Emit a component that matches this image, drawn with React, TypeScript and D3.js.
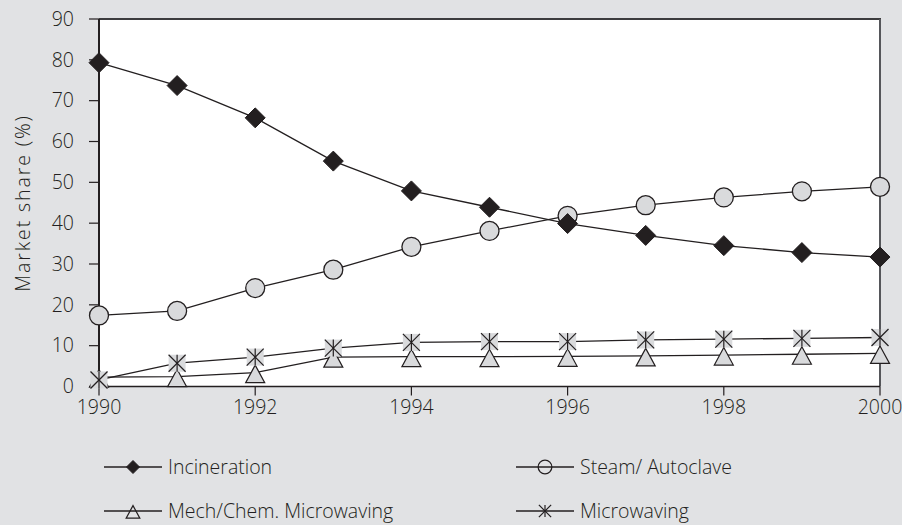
import React from "react";
import * as d3 from "d3";

const years = [1990, 1991, 1992, 1993, 1994, 1995, 1996, 1997, 1998, 1999, 2000];
const incineration = [79.3, 73.7, 65.8, 55.2, 47.9, 43.9, 39.9, 37.0, 34.5, 32.8, 31.7];
const steamAutoclave = [17.4, 18.5, 24.1, 28.6, 34.2, 38.1, 41.8, 44.4, 46.3, 47.8, 48.9];
const mechChemMicrowaving = [2.3, 2.4, 3.4, 7.2, 7.3, 7.3, 7.4, 7.5, 7.7, 7.9, 8.1];
const microwaving = [1.6, 5.7, 7.2, 9.4, 10.8, 11.0, 11.0, 11.4, 11.6, 11.8, 12.0];
const xTicks = [1990, 1992, 1994, 1996, 1998, 2000];
const yTicks = [0, 10, 20, 30, 40, 50, 60, 70, 80, 90];
const seriesNames = ["Incineration", "Steam/ Autoclave", "Mech/Chem. Microwaving", "Microwaving"];
const yLabel = "Market share (%)";

const W = 902, H = 525;
const M = { left: 99, right: 880, top: 19, bottom: 386.5 };
const INK = "#231f20";
const BG = "#e1e2e4";
const GRAY = "#d9dadc";
const FONT = "'Open Sans', 'Noto Sans', sans-serif";
const FS = 19.5;

type Kind = "diamond" | "circle" | "triangle" | "star";

function Marker({ kind, x, y, s = 1, legend = false }: { kind: Kind; x: number; y: number; s?: number; legend?: boolean }) {
  if (kind === "diamond") {
    const r = 10 * s;
    return <path d={`M${x},${y - r}L${x + r},${y}L${x},${y + r}L${x - r},${y}Z`} fill={INK} stroke={INK} strokeWidth={1} />;
  }
  if (kind === "circle") {
    return <circle cx={x} cy={y} r={9.5 * s} fill={legend ? "none" : GRAY} stroke={INK} strokeWidth={1.3} />;
  }
  if (kind === "triangle") {
    const hw = 9.5 * s, top = 7.5 * s, bot = 10 * s;
    return <path d={`M${x},${y - top}L${x + hw},${y + bot}L${x - hw},${y + bot}Z`} fill={legend ? "none" : GRAY} stroke={INK} strokeWidth={1.2} />;
  }
  const h = 8.5 * s;
  return (
    <g stroke={INK} strokeWidth={1.2}>
      {!legend && <rect x={x - h} y={y - h} width={2 * h} height={2 * h} fill={GRAY} stroke="none" />}
      <line x1={x - h} y1={y - h} x2={x + h} y2={y + h} />
      <line x1={x - h} y1={y + h} x2={x + h} y2={y - h} />
      <line x1={x} y1={y - h} x2={x} y2={y + h} />
    </g>
  );
}

export default function App() {
  const x = d3.scaleLinear().domain([1990, 2000]).range([M.left, M.right]);
  const y = d3.scaleLinear().domain([0, 90]).range([M.bottom, M.top]);
  const line = d3.line<number>().x((_, i) => x(years[i])).y((d) => y(d));

  const series: { name: string; values: number[]; kind: Kind }[] = [
    { name: seriesNames[1], values: steamAutoclave, kind: "circle" },
    { name: seriesNames[0], values: incineration, kind: "diamond" },
    { name: seriesNames[2], values: mechChemMicrowaving, kind: "triangle" },
    { name: seriesNames[3], values: microwaving, kind: "star" },
  ];

  const legend: { name: string; kind: Kind; lx: number; ly: number }[] = [
    { name: seriesNames[0], kind: "diamond", lx: 104, ly: 467 },
    { name: seriesNames[1], kind: "circle", lx: 516, ly: 467 },
    { name: seriesNames[2], kind: "triangle", lx: 104, ly: 511 },
    { name: seriesNames[3], kind: "star", lx: 516, ly: 511 },
  ];

  return (
    <svg width={W} height={H} style={{ position: "absolute", left: 0, top: 0, display: "block" }} fontFamily={FONT} fontWeight={300}>
      <rect x={0} y={0} width={W} height={H} fill={BG} />
      <rect x={M.left} y={M.top} width={M.right - M.left} height={M.bottom - M.top} fill="#fff" />
      {/* frame */}
      <line x1={M.left} y1={M.top} x2={M.right + 1} y2={M.top} stroke="#3c3c3e" strokeWidth={2} />
      <line x1={M.right} y1={M.top} x2={M.right} y2={M.bottom} stroke="#55565a" strokeWidth={2} />
      {/* y axis */}
      <line x1={M.left} y1={M.top} x2={M.left} y2={M.bottom} stroke={INK} strokeWidth={2} />
      {yTicks.map((t) => (
        <g key={t}>
          <line x1={M.left - 10} x2={M.left} y1={y(t)} y2={y(t)} stroke={INK} strokeWidth={1.2} />
          <text x={74} y={y(t)} dy="0.35em" textAnchor="end" fontSize={FS} fill={INK}>{t}</text>
        </g>
      ))}
      {/* x axis */}
      <line x1={M.left} y1={M.bottom} x2={M.right} y2={M.bottom} stroke={INK} strokeWidth={1.5} />
      {xTicks.map((t) => (
        <g key={t}>
          <line x1={x(t)} x2={x(t)} y1={M.bottom} y2={M.bottom + 9} stroke={INK} strokeWidth={1.2} />
          <text x={x(t)} y={407} dy="0.35em" textAnchor="middle" fontSize={FS} fill={INK}>{t}</text>
        </g>
      ))}
      <text transform={`translate(23,203) rotate(-90)`} textAnchor="middle" dy="0.35em" fontSize={FS} fill={INK} letterSpacing={1.9}>{yLabel}</text>
      {/* lines */}
      {series.map((s) => (
        <path key={s.name} d={line(s.values) || ""} fill="none" stroke={INK} strokeWidth={1.3} />
      ))}
      {/* markers */}
      {series.map((s) => (
        <g key={s.name + "m"}>
          {s.values.map((v, i) => <Marker key={i} kind={s.kind} x={x(years[i])} y={y(v)} />)}
        </g>
      ))}
      {/* legend */}
      {legend.map((l) => (
        <g key={l.name}>
          <line x1={l.lx} x2={l.lx + 58} y1={l.ly} y2={l.ly} stroke={INK} strokeWidth={1.5} />
          <Marker kind={l.kind} x={l.lx + 29} y={l.ly} s={l.kind === "diamond" ? 0.65 : 0.72} legend />
          <text x={l.lx + 64} y={l.ly} dy="0.35em" fontSize={FS} fill={INK}>{l.name}</text>
        </g>
      ))}
    </svg>
  );
}
